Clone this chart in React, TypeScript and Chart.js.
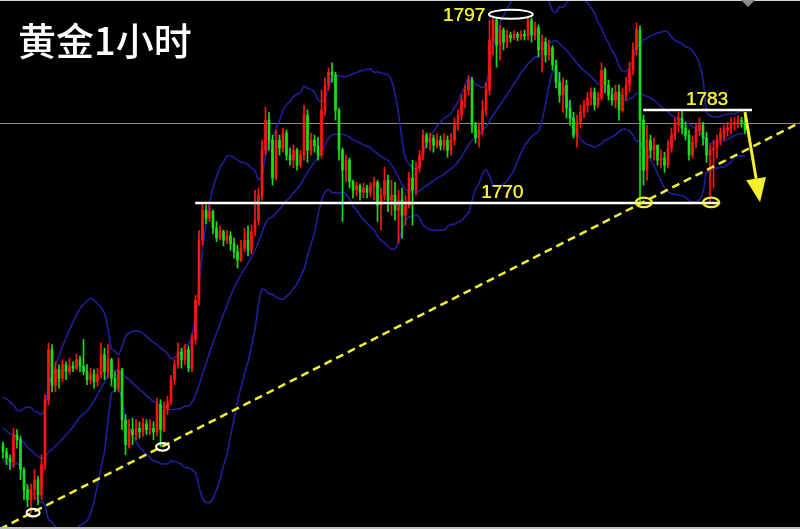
import React, { useEffect, useRef } from "react";
import { Chart, registerables } from "chart.js";

Chart.register(...registerables);

// ---- data (gold, 1-hour candles) ----
const OPEN0 = 1736.2;
const PRIOR_CLOSES = [1741.5, 1742.3, 1740.8, 1741.9, 1740.2, 1739.5, 1740.6, 1738.9, 1739.8, 1738.2, 1737.5, 1738.6, 1737.0, 1736.2, 1737.4, 1735.8, 1736.9, 1735.5, 1736.4];

const CLOSE = [
  1735.2, 1734.3, 1733.8, 1737.6, 1736.9, 1732.7, 1729.9, 1728.5, 1729.9, 1731.3,
  1729.2, 1733.4, 1742.5, 1749.5, 1744.5, 1746.7, 1745.5, 1747.4, 1746.4, 1747.2,
  1746.9, 1748.1, 1747.2, 1746.4, 1745.3, 1746.1, 1745.0, 1746.0, 1748.8, 1746.4,
  1748.1, 1745.5, 1744.1, 1746.7, 1739.7, 1736.2, 1738.3, 1737.6, 1738.5, 1738.0,
  1739.1, 1738.3, 1738.5, 1738.0, 1741.8, 1738.3, 1741.1, 1742.2, 1745.3, 1747.4,
  1749.2, 1748.1, 1749.5, 1746.9, 1750.9, 1756.4, 1764.8, 1769.0, 1767.9, 1768.8,
  1766.5, 1765.1, 1766.0, 1764.8, 1765.4, 1764.3, 1763.2, 1762.0, 1763.7, 1764.8,
  1763.4, 1766.0, 1767.6, 1771.1, 1777.4, 1781.6, 1778.8, 1773.5, 1778.8, 1777.7,
  1779.8, 1776.7, 1776.0, 1777.4, 1775.3, 1776.7, 1782.3, 1777.4, 1778.8, 1778.0,
  1776.7, 1783.0, 1786.5, 1788.3, 1787.9, 1783.0, 1777.4, 1774.6, 1776.0, 1773.0,
  1771.8, 1772.4, 1771.5, 1772.1, 1771.5, 1772.4, 1772.9, 1769.7, 1771.1, 1773.2,
  1770.4, 1771.1, 1769.0, 1770.4, 1768.3, 1769.7, 1773.5, 1771.8, 1774.9, 1776.7,
  1779.5, 1778.5, 1779.1, 1778.1, 1778.8, 1778.0, 1778.8, 1777.4, 1778.8, 1780.9,
  1782.3, 1784.4, 1785.8, 1787.2, 1780.9, 1779.1, 1780.2, 1783.0, 1785.8, 1792.8,
  1795.6, 1792.1, 1794.2, 1792.5, 1793.5, 1793.1, 1793.6, 1793.2, 1793.6, 1793.4,
  1795.6, 1793.5, 1794.5, 1791.4, 1792.5, 1790.7, 1791.7, 1789.3, 1786.9, 1785.1,
  1786.5, 1783.3, 1781.9, 1779.5, 1781.3, 1782.7, 1783.7, 1784.7, 1785.5, 1783.7,
  1784.7, 1788.6, 1786.5, 1785.1, 1784.4, 1785.5, 1783.0, 1785.1, 1786.5, 1788.6,
  1791.4, 1794.2, 1781.6, 1774.6, 1778.8, 1777.4, 1778.1, 1776.0, 1776.3, 1775.3,
  1777.7, 1779.5, 1780.9, 1781.9, 1780.5, 1779.5, 1776.7, 1778.5, 1780.2, 1780.9,
  1779.1, 1776.7, 1777.4, 1777.7, 1778.8, 1779.7, 1780.2, 1780.5, 1781.1, 1781.3,
  1781.6, 1781.3, 1780.2,
];

const HIGH = [
  1736.6, 1735.7, 1734.8, 1738.5, 1738.3, 1737.4, 1733.0, 1730.6, 1730.7, 1732.7,
  1731.8, 1734.8, 1743.2, 1750.4, 1750.2, 1747.8, 1747.4, 1748.1, 1747.8, 1748.3,
  1747.8, 1748.9, 1748.6, 1750.9, 1747.4, 1746.9, 1746.7, 1746.9, 1750.4, 1749.7,
  1750.2, 1748.3, 1746.4, 1748.3, 1746.9, 1740.4, 1739.7, 1739.9, 1739.7, 1739.4,
  1739.9, 1739.7, 1739.7, 1739.4, 1742.7, 1742.5, 1742.2, 1743.0, 1745.9, 1748.1,
  1750.4, 1749.7, 1750.2, 1750.0, 1751.6, 1757.1, 1766.2, 1770.0, 1769.7, 1769.7,
  1769.0, 1767.4, 1766.8, 1766.2, 1766.2, 1766.0, 1765.1, 1764.1, 1764.8, 1766.5,
  1766.8, 1766.9, 1771.8, 1772.1, 1778.8, 1783.4, 1782.7, 1779.5, 1780.2, 1779.5,
  1780.5, 1780.2, 1777.7, 1778.1, 1777.7, 1777.4, 1783.7, 1783.0, 1779.8, 1779.5,
  1779.2, 1785.8, 1787.5, 1788.9, 1789.6, 1788.3, 1783.3, 1777.7, 1776.7, 1776.3,
  1773.2, 1772.9, 1772.7, 1772.8, 1772.5, 1772.9, 1773.6, 1773.2, 1772.1, 1775.0,
  1773.9, 1773.2, 1772.9, 1771.8, 1772.1, 1771.1, 1774.3, 1776.0, 1775.7, 1777.4,
  1780.2, 1779.8, 1779.8, 1779.5, 1779.7, 1779.4, 1779.7, 1779.4, 1779.7, 1781.9,
  1783.0, 1785.1, 1786.5, 1787.8, 1787.6, 1781.3, 1781.2, 1784.4, 1786.8, 1795.6,
  1796.2, 1795.9, 1794.9, 1794.5, 1794.2, 1793.9, 1794.1, 1793.9, 1794.1, 1794.2,
  1796.2, 1795.9, 1795.3, 1794.9, 1793.5, 1793.1, 1792.8, 1792.0, 1790.0, 1788.3,
  1787.5, 1787.2, 1784.4, 1782.7, 1782.3, 1783.7, 1784.4, 1785.5, 1786.1, 1786.1,
  1785.5, 1789.6, 1788.9, 1787.2, 1786.1, 1786.5, 1786.5, 1786.1, 1787.6, 1789.7,
  1792.4, 1795.2, 1794.8, 1782.3, 1780.9, 1779.5, 1779.1, 1778.0, 1777.4, 1777.1,
  1778.8, 1780.5, 1781.9, 1782.7, 1783.0, 1781.3, 1780.2, 1779.4, 1781.1, 1781.9,
  1781.3, 1779.9, 1778.1, 1778.8, 1779.5, 1780.5, 1780.9, 1781.3, 1781.9, 1782.0,
  1782.2, 1782.0, 1782.7,
];

const LOW = [
  1734.3, 1733.4, 1732.7, 1733.0, 1735.7, 1731.3, 1728.5, 1727.5, 1726.7, 1728.5,
  1727.8, 1728.5, 1732.7, 1741.8, 1743.6, 1743.6, 1744.1, 1745.0, 1745.3, 1746.0,
  1746.4, 1746.7, 1746.4, 1746.0, 1744.6, 1744.7, 1744.1, 1744.4, 1745.5, 1745.3,
  1745.5, 1744.4, 1743.6, 1743.6, 1738.3, 1734.8, 1735.7, 1736.2, 1736.9, 1737.1,
  1737.4, 1737.6, 1737.6, 1736.9, 1737.4, 1735.9, 1738.0, 1740.4, 1741.8, 1744.6,
  1746.9, 1746.9, 1747.4, 1746.4, 1746.4, 1750.2, 1755.7, 1764.1, 1767.1, 1767.4,
  1765.7, 1764.6, 1764.8, 1764.0, 1764.3, 1763.4, 1762.3, 1760.9, 1761.8, 1763.2,
  1762.6, 1762.9, 1765.4, 1766.9, 1770.4, 1776.7, 1777.4, 1772.5, 1773.2, 1776.7,
  1777.1, 1776.0, 1775.3, 1774.9, 1774.6, 1774.9, 1776.0, 1775.7, 1776.7, 1777.1,
  1776.0, 1776.3, 1782.3, 1785.8, 1786.9, 1781.6, 1776.0, 1767.4, 1773.0, 1772.1,
  1770.7, 1771.0, 1770.4, 1770.7, 1770.7, 1770.9, 1770.4, 1767.4, 1766.2, 1770.4,
  1768.8, 1768.3, 1767.6, 1764.4, 1765.1, 1766.9, 1769.3, 1766.9, 1771.1, 1774.3,
  1776.0, 1777.7, 1777.4, 1777.1, 1777.7, 1777.4, 1777.4, 1776.4, 1776.7, 1778.1,
  1780.2, 1781.6, 1783.3, 1785.1, 1779.8, 1778.4, 1777.8, 1779.5, 1782.3, 1785.1,
  1790.7, 1789.0, 1790.0, 1791.4, 1791.7, 1792.5, 1792.8, 1792.7, 1792.8, 1792.8,
  1792.8, 1792.5, 1792.8, 1790.4, 1788.3, 1789.7, 1790.0, 1788.6, 1786.1, 1784.1,
  1782.7, 1781.9, 1780.9, 1779.1, 1777.8, 1780.5, 1781.9, 1782.7, 1783.7, 1783.0,
  1783.3, 1784.4, 1785.4, 1784.4, 1783.7, 1783.3, 1781.6, 1782.7, 1784.4, 1785.5,
  1787.9, 1790.7, 1770.0, 1772.5, 1773.2, 1776.3, 1776.0, 1775.3, 1774.9, 1774.3,
  1774.9, 1777.1, 1778.8, 1779.9, 1779.7, 1778.8, 1776.0, 1776.3, 1777.7, 1779.4,
  1778.1, 1775.7, 1770.0, 1772.1, 1776.3, 1778.1, 1778.8, 1779.4, 1779.7, 1780.2,
  1780.5, 1780.6, 1779.7,
];

// ---- annotation values ----
const TITLE = "黄金1小时";
const LEVEL_SUPPORT = 1770;
const LEVEL_SUPPORT_RANGE = [54.9, 204.9];
const LEVEL_RESIST = 1783;
const LEVEL_RESIST_RANGE = [182.9, 214.0];
const CURRENT_PRICE = 1781.2;
const TREND_A = [8.3, 1726.7];
const TREND_B = [45.7, 1736.0];
const TOP_MARK = [145.1, 1796.4];
const WHITE_MARKS = [[8.6, 1726.7], [45.6, 1735.9]];
const YELLOW_MARKS = [[183.1, 1770.1], [202.3, 1770.1]];
const ARROW_FROM = [212.0, 1782.7];
const ARROW_TO = [216.3, 1770.1];
const LABELS = [
  { text: "1797", i: 131.7, p: 1796.2 },
  { text: "1770", i: 142.6, p: 1771.5 },
  { text: "1783", i: 201.1, p: 1784.4 },
];

// axis ranges
const X_MIN = -0.857;
const X_MAX = 227.71;
const Y_MIN = 1724.41;
const Y_MAX = 1798.4;

const BB_PERIOD = 20;
const BB_DEV = 2;

const UP = "#ff1414";
const DOWN = "#18e018";
const BAND = "#1f1f9c";
const YELLOW = "#f4f030";

export default function App() {
  const ref = useRef<HTMLCanvasElement | null>(null);

  useEffect(() => {
    document.body.style.margin = "0";
    document.body.style.background = "#000";
    const canvas = ref.current;
    if (!canvas) return;

    const opens = CLOSE.map((c, i) => (i === 0 ? OPEN0 : CLOSE[i - 1]));
    const colors = CLOSE.map((c, i) => (c >= opens[i] ? UP : DOWN));
    const wicks = CLOSE.map((c, i) => ({
      x: i,
      y: [Math.min(LOW[i], opens[i], c), Math.max(HIGH[i], opens[i], c)],
    }));
    const bodies = CLOSE.map((c, i) => ({ x: i, y: [opens[i], c] }));

    const all = PRIOR_CLOSES.concat(CLOSE);
    const mid: any[] = [], upper: any[] = [], lower: any[] = [];
    CLOSE.forEach((_, i) => {
      const end = i + PRIOR_CLOSES.length + 1;
      const win = all.slice(Math.max(0, end - BB_PERIOD), end);
      const m = win.reduce((a, b) => a + b, 0) / win.length;
      const sd = Math.sqrt(win.reduce((a, b) => a + (b - m) * (b - m), 0) / win.length);
      mid.push({ x: i, y: m });
      upper.push({ x: i, y: m + BB_DEV * sd });
      lower.push({ x: i, y: m - BB_DEV * sd });
    });

    const bg = {
      id: "bg",
      beforeDraw(chart: any) {
        const { ctx, width, height } = chart;
        ctx.save();
        ctx.fillStyle = "#000";
        ctx.fillRect(0, 0, width, height);
        ctx.restore();
      },
    };

    const annot = {
      id: "annot",
      beforeDatasetsDraw(chart: any) {
        const { ctx, width } = chart;
        const ys = chart.scales.y;
        ctx.save();
        ctx.strokeStyle = "#8a8a8a";
        ctx.lineWidth = 1;
        const y = Math.round(ys.getPixelForValue(CURRENT_PRICE)) + 0.5;
        ctx.beginPath();
        ctx.moveTo(0, y);
        ctx.lineTo(width, y);
        ctx.stroke();
        ctx.restore();
      },
      afterDatasetsDraw(chart: any) {
        const { ctx, width, height } = chart;
        const xs = chart.scales.x, ys = chart.scales.y;
        const X = (v: number) => xs.getPixelForValue(v);
        const Y = (v: number) => ys.getPixelForValue(v);
        ctx.save();

        // horizontal levels
        ctx.strokeStyle = "#ffffff";
        ctx.lineWidth = 2.5;
        ctx.beginPath();
        ctx.moveTo(X(LEVEL_SUPPORT_RANGE[0]), Y(LEVEL_SUPPORT));
        ctx.lineTo(X(LEVEL_SUPPORT_RANGE[1]), Y(LEVEL_SUPPORT));
        ctx.moveTo(X(LEVEL_RESIST_RANGE[0]), Y(LEVEL_RESIST));
        ctx.lineTo(X(LEVEL_RESIST_RANGE[1]), Y(LEVEL_RESIST));
        ctx.stroke();

        // trend line
        const slope = (TREND_B[1] - TREND_A[1]) / (TREND_B[0] - TREND_A[0]);
        const pAt = (i: number) => TREND_A[1] + slope * (i - TREND_A[0]);
        ctx.strokeStyle = YELLOW;
        ctx.lineWidth = 2.5;
        ctx.setLineDash([8, 5]);
        ctx.beginPath();
        ctx.moveTo(X(X_MIN), Y(pAt(X_MIN)));
        ctx.lineTo(X(X_MAX), Y(pAt(X_MAX)));
        ctx.stroke();
        ctx.setLineDash([]);

        // ellipses
        const ell = (i: number, p: number, rx: number, ry: number, col: string, lw: number) => {
          ctx.strokeStyle = col;
          ctx.lineWidth = lw;
          ctx.beginPath();
          ctx.ellipse(X(i), Y(p), rx, ry, 0, 0, Math.PI * 2);
          ctx.stroke();
        };
        ell(TOP_MARK[0], TOP_MARK[1], 22, 4.5, "#ffffff", 2);
        WHITE_MARKS.forEach((m) => ell(m[0], m[1], 6.5, 3.8, "#fffbe0", 2.2));
        YELLOW_MARKS.forEach((m) => ell(m[0], m[1], 8, 4.8, YELLOW, 2.2));

        // arrow
        const x1 = X(ARROW_FROM[0]), y1 = Y(ARROW_FROM[1]);
        const x2 = X(ARROW_TO[0]), y2 = Y(ARROW_TO[1]);
        const len = Math.hypot(x2 - x1, y2 - y1);
        const ux = (x2 - x1) / len, uy = (y2 - y1) / len;
        const hl = 24, hw = 10;
        const bx = x2 - ux * hl, by = y2 - uy * hl;
        ctx.strokeStyle = YELLOW;
        ctx.fillStyle = YELLOW;
        ctx.lineWidth = 3;
        ctx.beginPath();
        ctx.moveTo(x1, y1);
        ctx.lineTo(bx, by);
        ctx.stroke();
        ctx.beginPath();
        ctx.moveTo(x2, y2);
        ctx.lineTo(bx - uy * hw, by + ux * hw);
        ctx.lineTo(bx + uy * hw, by - ux * hw);
        ctx.closePath();
        ctx.fill();

        // labels
        ctx.fillStyle = YELLOW;
        ctx.font = "19px 'Liberation Sans', Arial, sans-serif";
        ctx.textAlign = "center";
        ctx.textBaseline = "middle";
        LABELS.forEach((l) => {
          ctx.fillText(l.text, X(l.i), Y(l.p));
          ctx.fillText(l.text, X(l.i) + 0.4, Y(l.p));
        });

        // title
        ctx.fillStyle = "#ffffff";
        ctx.font = "500 38px 'Noto Sans CJK SC', sans-serif";
        ctx.textAlign = "left";
        ctx.textBaseline = "middle";
        ctx.fillText(TITLE, 18, 41);

        // frame details
        ctx.fillStyle = "#d8d8d8";
        ctx.fillRect(0, 0, width, 1);
        ctx.fillStyle = "#bdbdbd";
        ctx.fillRect(0, height - 2, width, 2);
        ctx.fillStyle = "#8c8c8c";
        ctx.beginPath();
        ctx.moveTo(741, 0);
        ctx.lineTo(755, 0);
        ctx.lineTo(748, 7);
        ctx.closePath();
        ctx.fill();

        ctx.restore();
      },
    };

    const chart = new Chart(canvas, {
      type: "bar",
      data: {
        datasets: [
          {
            type: "bar",
            data: wicks as any,
            backgroundColor: colors,
            barThickness: 1,
            grouped: false,
            borderWidth: 0,
            order: 1,
          } as any,
          {
            type: "bar",
            data: bodies as any,
            backgroundColor: colors,
            barThickness: 2,
            grouped: false,
            borderWidth: 0,
            minBarLength: 1,
            order: 0,
          } as any,
          {
            type: "line",
            data: upper,
            borderColor: BAND,
            borderWidth: 1.6,
            pointRadius: 0,
            tension: 0.2,
            order: 2,
          },
          {
            type: "line",
            data: mid,
            borderColor: BAND,
            borderWidth: 1.6,
            pointRadius: 0,
            tension: 0.2,
            order: 2,
          },
          {
            type: "line",
            data: lower,
            borderColor: BAND,
            borderWidth: 1.6,
            pointRadius: 0,
            tension: 0.2,
            order: 2,
          },
        ],
      },
      options: {
        animation: false,
        responsive: false,
        maintainAspectRatio: false,
        events: [],
        layout: { padding: 0 },
        plugins: {
          legend: { display: false },
          tooltip: { enabled: false },
          title: { display: false },
        },
        scales: {
          x: { type: "linear", min: X_MIN, max: X_MAX, display: false, offset: false },
          y: { type: "linear", min: Y_MIN, max: Y_MAX, display: false },
        },
      } as any,
      plugins: [bg, annot],
    });

    return () => chart.destroy();
  }, []);

  return (
    <canvas
      ref={ref}
      width={800}
      height={529}
      style={{ display: "block", width: 800, height: 529, background: "#000" }}
    />
  );
}
